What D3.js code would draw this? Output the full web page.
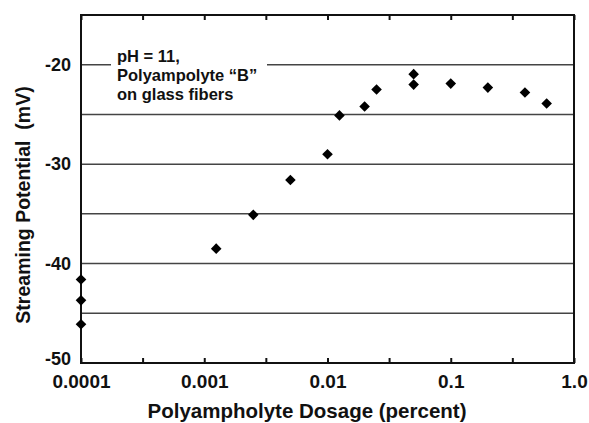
<!DOCTYPE html>
<html>
<head>
<meta charset="utf-8">
<script src="https://cdn.jsdelivr.net/npm/d3@7"></script>
<style>
  body { margin: 0; background: #fff; }
  svg text { font-family: "Liberation Sans", Arial, sans-serif; font-weight: bold; fill: #111; }
</style>
</head>
<body>
<svg id="chart" width="589" height="423"></svg>
<script>
// dosage (percent) and streaming potential (mV)
var dosage = [0.0001, 0.0001, 0.0001, 0.00125, 0.0025, 0.005, 0.01, 0.0125, 0.02, 0.025, 0.05, 0.05, 0.1, 0.2, 0.4, 0.6];
var potential = [-41.6, -43.7, -46.1, -38.5, -35.1, -31.6, -29.0, -25.1, -24.2, -22.5, -20.95, -22.0, -21.9, -22.3, -22.8, -23.9];

var xTicks = [0.0001, 0.001, 0.01, 0.1, 1];
var xTickLabels = ["0.0001", "0.001", "0.01", "0.1", "1.0"];
var xMinorTicks = [0.000316, 0.00316, 0.0316, 0.316];
var yTicks = [-20, -30, -40, -50];
var yGrid = [-20, -25, -30, -35, -40, -45];
var noteLines = ["pH = 11,", "Polyampolyte \u201CB\u201D", "on glass fibers"];

var svg = d3.select("#chart");
var plotL = 81, plotR = 574, plotT = 15, plotB = 363;

var x = d3.scaleLog().domain([0.0001, 1]).range([plotL, plotR]);
var y = d3.scaleLinear().domain([-50, -15]).range([plotB, plotT]);

// gridlines
svg.append("g")
  .selectAll("line")
  .data(yGrid)
  .enter().append("line")
  .attr("x1", plotL).attr("x2", plotR)
  .attr("y1", function(d) { return y(d); })
  .attr("y2", function(d) { return y(d); })
  .attr("stroke", "#444")
  .attr("stroke-width", 1.5);

// annotation, white box knocks out the gridline
svg.append("rect")
  .attr("x", 111).attr("y", 48)
  .attr("width", 156).attr("height", 60)
  .attr("fill", "#fff");

svg.append("g")
  .selectAll("text")
  .data(noteLines)
  .enter().append("text")
  .attr("x", 117)
  .attr("y", function(d, i) { return 61.5 + i * 19.2; })
  .style("font-size", "16.5px")
  .text(function(d) { return d; });

// axes
var allTicks = xTicks.concat(xMinorTicks);

var xAxis = d3.axisBottom(x)
  .tickValues(allTicks)
  .tickSizeInner(-5)
  .tickSizeOuter(0)
  .tickPadding(12)
  .tickFormat(function(d) {
    var i = xTicks.indexOf(d);
    return i >= 0 ? xTickLabels[i] : "";
  });

var gx = svg.append("g")
  .attr("transform", "translate(0," + plotB + ")")
  .call(xAxis);
gx.selectAll("text").style("font-size", "19px");

var gTop = svg.append("g")
  .attr("transform", "translate(0," + plotT + ")")
  .call(d3.axisTop(x).tickValues(allTicks).tickSizeInner(-5).tickSizeOuter(0).tickFormat(""));

var gy = svg.append("g")
  .attr("transform", "translate(" + plotL + ",0)")
  .call(d3.axisLeft(y).tickValues(yTicks).tickSize(0).tickPadding(10).tickFormat(function(d) { return String(d); }));
gy.selectAll("text").style("font-size", "18px");
// bottom label sits a little high, as in the original
gy.selectAll(".tick text").filter(function(d) { return d === -50; }).attr("dy", "0.1em");

[gx, gTop, gy].forEach(function(g) {
  g.select(".domain").remove();
  g.selectAll("line").attr("stroke", "#111").attr("stroke-width", 2);
});

// frame
svg.append("rect")
  .attr("x", plotL).attr("y", plotT)
  .attr("width", plotR - plotL).attr("height", plotB - plotT)
  .attr("fill", "none")
  .attr("stroke", "#111")
  .attr("stroke-width", 2);

// diamonds
var diamond = "M0,-5.3L5.3,0L0,5.3L-5.3,0Z";
svg.append("g")
  .selectAll("path")
  .data(dosage)
  .enter().append("path")
  .attr("d", diamond)
  .attr("transform", function(d, i) { return "translate(" + x(d) + "," + y(potential[i]) + ")"; })
  .attr("fill", "#000");

// axis titles
svg.append("text")
  .attr("x", 307)
  .attr("y", 418)
  .attr("text-anchor", "middle")
  .style("font-size", "20.5px")
  .text("Polyampholyte Dosage (percent)");

svg.append("text")
  .attr("transform", "translate(30,205) rotate(-90)")
  .attr("text-anchor", "middle")
  .style("font-size", "19.5px")
  .attr("xml:space", "preserve")
  .text("Streaming Potential  (mV)");
</script>
</body>
</html>
